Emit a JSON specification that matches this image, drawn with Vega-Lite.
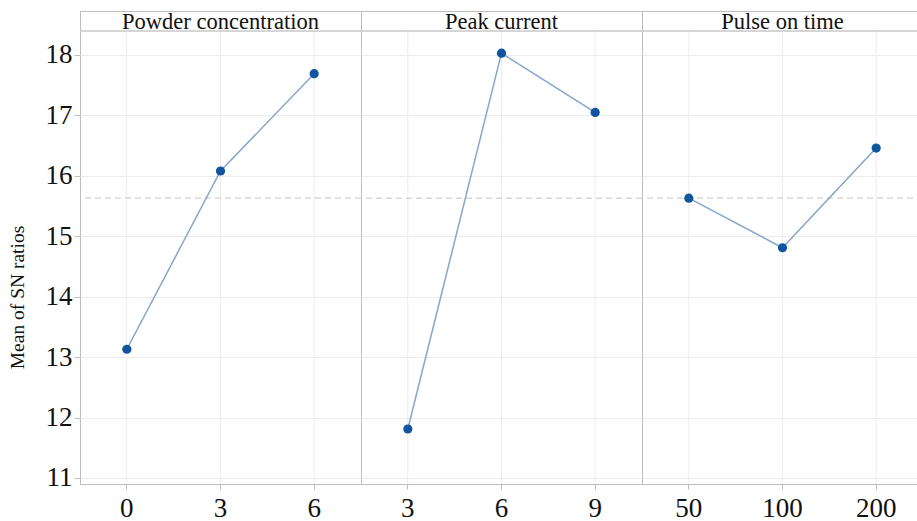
{
  "$schema": "https://vega.github.io/schema/vega-lite/v6.json",
  "padding": {"left": 7, "top": 10, "right": 0, "bottom": 0},
  "background": "white",
  "data": {
    "values": [
      {"factor": "Powder concentration", "level": "0", "order": 1, "sn": 13.13},
      {"factor": "Powder concentration", "level": "3", "order": 2, "sn": 16.08},
      {"factor": "Powder concentration", "level": "6", "order": 3, "sn": 17.69},
      {"factor": "Peak current", "level": "3", "order": 1, "sn": 11.81},
      {"factor": "Peak current", "level": "6", "order": 2, "sn": 18.03},
      {"factor": "Peak current", "level": "9", "order": 3, "sn": 17.05},
      {"factor": "Pulse on time", "level": "50", "order": 1, "sn": 15.63},
      {"factor": "Pulse on time", "level": "100", "order": 2, "sn": 14.81},
      {"factor": "Pulse on time", "level": "200", "order": 3, "sn": 16.46}
    ]
  },
  "facet": {
    "column": {
      "field": "factor",
      "type": "nominal",
      "sort": ["Powder concentration", "Peak current", "Pulse on time"],
      "header": null
    }
  },
  "spacing": 0,
  "bounds": "flush",
  "resolve": {"scale": {"x": "independent"}},
  "spec": {
    "width": 281,
    "height": 473,
    "encoding": {
      "x": {
        "field": "level",
        "type": "ordinal",
        "sort": {"field": "order", "op": "min"},
        "axis": {
          "title": null,
          "grid": false,
          "domain": false,
          "ticks": true,
          "tickSize": 5,
          "tickColor": "#bdbdbd",
          "labelAngle": 0,
          "labelPadding": 6,
          "labelFont": "Liberation Serif",
          "labelFontSize": 27,
          "labelColor": "#111111"
        }
      }
    },
    "layer": [
      {
        "mark": {"type": "rule", "color": "#ececec", "strokeWidth": 1},
        "encoding": {
          "y": {"datum": 18.397},
          "y2": {"datum": 10.9}
        }
      },
      {
        "mark": {"type": "rule", "color": "#cfcfcf", "strokeWidth": 1},
        "encoding": {
          "x": null,
          "y": {"datum": 18.397}
        }
      },
      {
        "mark": {"type": "rule", "color": "#c4c4c4", "strokeWidth": 1, "strokeDash": [6, 4]},
        "encoding": {
          "x": null,
          "y": {"aggregate": "mean", "field": "sn", "type": "quantitative"}
        }
      },
      {
        "mark": {"type": "line", "color": "#86a5cc", "strokeWidth": 1.5},
        "encoding": {
          "y": {
            "field": "sn",
            "type": "quantitative",
            "scale": {"domain": [10.9, 18.728], "nice": false, "zero": false},
            "axis": {
              "title": "Mean of SN ratios",
              "titleFont": "Liberation Serif",
              "titleFontSize": 19.5,
              "titleFontWeight": "normal",
              "titleColor": "#111111",
              "titlePadding": 18,
              "titleY": 286,
              "values": [11, 12, 13, 14, 15, 16, 17, 18],
              "format": "d",
              "domain": false,
              "tickSize": 6,
              "tickColor": "#bdbdbd",
              "labelPadding": 2,
              "labelFont": "Liberation Serif",
              "labelFontSize": 27,
              "labelColor": "#111111",
              "grid": true,
              "gridColor": "#ececec"
            }
          }
        }
      },
      {
        "mark": {"type": "point", "filled": true, "size": 85, "color": "#12559f", "opacity": 1},
        "encoding": {
          "y": {"field": "sn", "type": "quantitative"}
        }
      },
      {
        "transform": [{"filter": "datum.order == 1"}],
        "mark": {"type": "text", "font": "Liberation Serif", "fontSize": 22.5, "color": "#111111", "baseline": "alphabetic", "align": "center"},
        "encoding": {
          "x": null,
          "y": {"datum": 18.43},
          "text": {"field": "factor", "type": "nominal"}
        }
      }
    ]
  },
  "config": {
    "view": {"stroke": "#bdbdbd", "strokeWidth": 1},
    "axis": {"gridColor": "#ececec"}
  }
}
